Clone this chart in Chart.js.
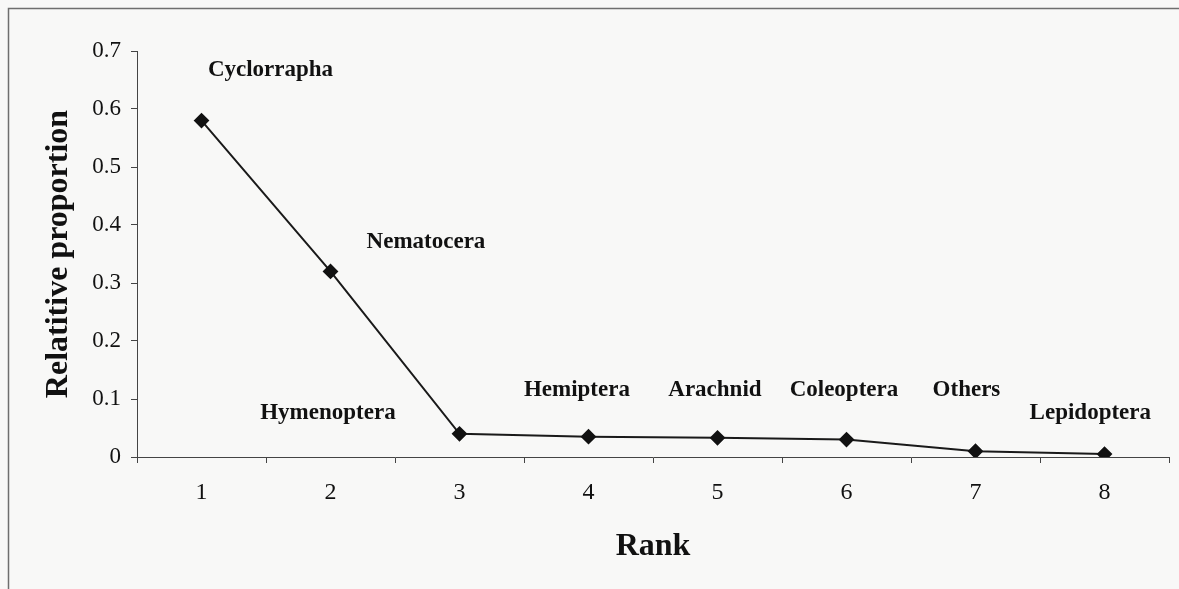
<!DOCTYPE html>
<html>
<head>
<meta charset="utf-8">
<script src="https://cdn.jsdelivr.net/npm/chart.js@4"></script>
<style>
  html, body { margin: 0; padding: 0; background: #f8f8f7; }
  #wrap { width: 1179px; height: 589px; position: relative; }
</style>
</head>
<body>
<div id="wrap"><canvas id="rankChart" width="1179" height="589"></canvas></div>
<script>
// Дані графіка
const ranks = ['1', '2', '3', '4', '5', '6', '7', '8'];
const proportions = [0.58, 0.32, 0.04, 0.035, 0.033, 0.03, 0.01, 0.005];
const taxa = ['Cyclorrapha', 'Nematocera', 'Hymenoptera', 'Hemiptera', 'Arachnid', 'Coleoptera', 'Others', 'Lepidoptera'];
// де стоять підписи (у одиницях осей: ранг і частка)
const labelRank = [1.535, 2.74, 1.98, 3.91, 4.98, 5.98, 6.93, 7.89];
const labelValue = [0.667, 0.37, 0.076, 0.115, 0.115, 0.115, 0.115, 0.076];
const yTicks = [0, 0.1, 0.2, 0.3, 0.4, 0.5, 0.6, 0.7];

const serif = '"Liberation Serif", "Times New Roman", serif';

// Рамка навколо всього малюнка
const framePlugin = {
    id: 'frame',
    beforeDraw(chart) {
        const ctx = chart.ctx;
        ctx.save();
        ctx.strokeStyle = '#6e6e6e';
        ctx.lineWidth = 1.5;
        ctx.strokeRect(8.5, 8.5, 1300, 700);
        ctx.restore();
    }
};

// Підписи таксонів біля точок
const taxaLabels = {
    id: 'taxaLabels',
    afterDatasetsDraw(chart) {
        const ctx = chart.ctx;
        const x = chart.scales.x;
        const y = chart.scales.y;
        ctx.save();
        ctx.font = 'bold 23px ' + serif;
        ctx.fillStyle = '#111';
        ctx.textAlign = 'center';
        ctx.textBaseline = 'middle';
        taxa.forEach((name, i) => {
            ctx.fillText(name, x.getPixelForValue(labelRank[i] - 1), y.getPixelForValue(labelValue[i]));
        });
        ctx.restore();
    }
};

const ctx = document.getElementById('rankChart').getContext('2d');
new Chart(ctx, {
    type: 'line',
    data: {
        labels: ranks,
        datasets: [{
            data: proportions,
            borderColor: '#1a1a1a',
            borderWidth: 2,
            pointStyle: 'rectRot',
            pointRadius: 6.5,
            pointBackgroundColor: '#111',
            pointBorderColor: '#111',
            tension: 0
        }]
    },
    options: {
        responsive: false,
        animation: false,
        layout: { padding: { top: 51, right: 10, bottom: 0, left: 0 } },
        plugins: { legend: { display: false }, tooltip: { enabled: false } },
        scales: {
            x: {
                type: 'category',
                offset: true,
                grid: { offset: true, drawOnChartArea: false, drawTicks: true, tickLength: 6, color: '#444', lineWidth: 1 },
                border: { display: true, color: '#444', width: 1 },
                ticks: { color: '#111', font: { family: serif, size: 24 }, padding: 15, maxRotation: 0 },
                title: { display: true, text: 'Rank', color: '#111', font: { family: serif, size: 32, weight: 'bold' }, padding: { top: 0, bottom: 23 } },
                afterFit(scale) { scale.height = 132; }
            },
            y: {
                min: 0,
                max: 0.7,
                afterBuildTicks(scale) { scale.ticks = yTicks.map(v => ({ value: v })); },
                grid: { drawOnChartArea: false, drawTicks: true, tickLength: 6, color: '#444', lineWidth: 1 },
                border: { display: true, color: '#444', width: 1 },
                ticks: { color: '#111', font: { family: serif, size: 23 }, padding: 10, callback: v => String(+v.toFixed(1)) },
                title: { display: true, text: 'Relatitive proportion', color: '#111', font: { family: serif, size: 32, weight: 'bold' }, padding: { top: 40, bottom: 0 } },
                afterFit(scale) { scale.width = 137; }
            }
        }
    },
    plugins: [framePlugin, taxaLabels]
});
</script>
</body>
</html>
